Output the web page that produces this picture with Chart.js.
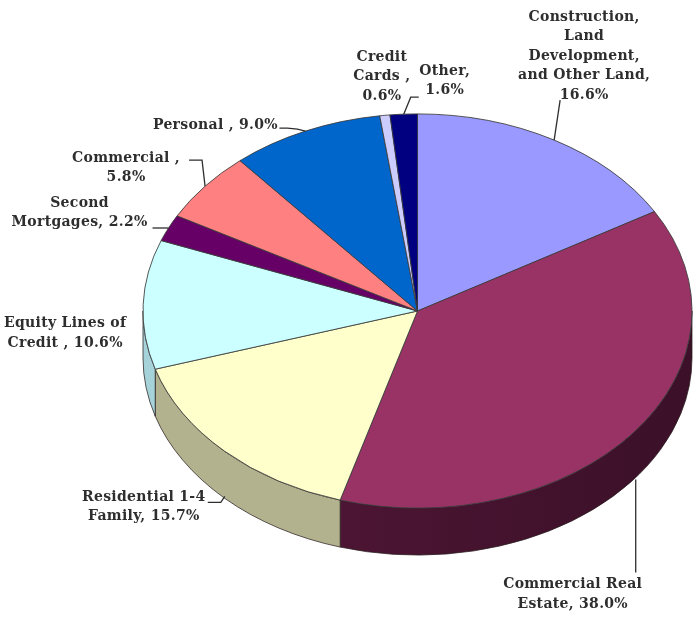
<!DOCTYPE html>
<html>
<head>
<meta charset="utf-8">
<title>Loan Portfolio Composition</title>
<script src="https://cdn.jsdelivr.net/npm/chart.js@4.4.1/dist/chart.umd.min.js"></script>
<style>
  html, body { margin: 0; padding: 0; background: #ffffff; }
  #wrap { width: 693px; height: 618px; position: relative; }
</style>
</head>
<body>
<div id="wrap"><canvas id="c" width="693" height="618"></canvas></div>
<script>
// Loan categories and their share of the portfolio (percent)
const categories = [
  "Construction, Land Development, and Other Land",
  "Commercial Real Estate",
  "Residential 1-4 Family",
  "Equity Lines of Credit",
  "Second Mortgages",
  "Commercial",
  "Personal",
  "Credit Cards",
  "Other"
];
const shares = [16.6, 38.0, 15.7, 10.6, 2.2, 5.8, 9.0, 0.6, 1.6];

// Label text, {v} is replaced by the slice value
const labelTemplates = [
  "Construction,\nLand\nDevelopment,\nand Other Land,\n{v}",
  "Commercial Real\nEstate, {v}",
  "Residential 1-4\nFamily, {v}",
  "Equity Lines of\nCredit , {v}",
  "Second\nMortgages, {v}",
  "Commercial ,\n{v}",
  "Personal , {v}",
  "Credit\nCards ,\n{v}",
  "Other,\n{v}"
];

// Face and side-wall colours
const topColors  = ["#9999FF", "#993366", "#FFFFCC", "#CCFFFF", "#660066", "#FF8080", "#0066CC", "#CCCCFF", "#000080"];
const sideColors = ["#6B6BB3", "#4C1533", "#B3B28E", "#A6D3D9", "#470047", "#B35A5A", "#00478F", "#8F8FB3", "#00005A"];

// Pie geometry: vertical squash of the disc and thickness of the wall
const TILT = 0.718;
const DEPTH = 47;

// Label placement relative to the slice anchor (top rim or bottom of wall)
const labelLayout = [
  { edge: "top",    dx: 30,  dy: -123, align: "center", leader: [[0, 0], [6, -40]] },
  { edge: "bottom", dx: -61, dy: 105,  align: "center", leader: [[2, 0], [2, 93]] },
  { edge: "bottom", dx: -81, dy: -1,   align: "center", leader: [[0, -2], [-4, 4], [-17, 4]] },
  { edge: "top",    dx: -78, dy: 19,   align: "center", leader: null },
  { edge: "top",    dx: -89, dy: -25,  align: "center", leader: [[0, 0], [-16, 0]] },
  { edge: "top",    dx: -79, dy: -28,  align: "center", leader: [[0, 0], [-3, -26], [-16, -26]] },
  { edge: "top",    dx: -90, dy: -6,   align: "center", leader: [[0, 0], [-8, -2], [-18, -3], [-26, -3]] },
  { edge: "top",    dx: -3,  dy: -58,  align: "center", leader: null },
  { edge: "top",    dx: 41,  dy: -43,  align: "center", leader: [[0, 0], [7, -17], [15, -17]] }
];

const FONT = "bold 14px 'DejaVu Serif'";
const LETTER_SPACING = "0.3px";
const LINE_H = 19.5;

function sliceGeom(arc) {
  return arc.getProps(["x", "y", "startAngle", "endAngle", "outerRadius"], true);
}

function shade(hex, f) {
  const n = parseInt(hex.slice(1), 16);
  const r = Math.round(((n >> 16) & 255) * f);
  const gg = Math.round(((n >> 8) & 255) * f);
  const b = Math.round((n & 255) * f);
  return "rgb(" + r + "," + gg + "," + b + ")";
}

const tiltPlugin = {
  id: "tilt3d",
  beforeDatasetsDraw(chart) {
    const ctx = chart.ctx;
    const arcs = chart.getDatasetMeta(0).data;
    // side walls for the part of the rim facing the viewer
    arcs.forEach((arc, i) => {
      const g = sliceGeom(arc);
      const a1 = Math.max(g.startAngle, 0);
      const a2 = Math.min(g.endAngle, Math.PI);
      if (a2 <= a1) return;
      const R = g.outerRadius, r = R * TILT;
      const grad = ctx.createLinearGradient(g.x - R, 0, g.x + R, 0);
      grad.addColorStop(0, sideColors[i]);
      grad.addColorStop(0.35, sideColors[i]);
      grad.addColorStop(1, shade(sideColors[i], 0.78));
      ctx.save();
      ctx.beginPath();
      ctx.ellipse(g.x, g.y, R, r, 0, a1, a2, false);
      ctx.lineTo(g.x + R * Math.cos(a2), g.y + r * Math.sin(a2) + DEPTH);
      ctx.ellipse(g.x, g.y + DEPTH, R, r, 0, a2, a1, true);
      ctx.closePath();
      ctx.fillStyle = grad;
      ctx.fill();
      ctx.lineWidth = 1;
      ctx.strokeStyle = "rgba(40,30,30,0.75)";
      ctx.stroke();
      ctx.restore();
    });
    // squash the disc for the top faces
    const g0 = sliceGeom(arcs[0]);
    ctx.save();
    ctx.translate(g0.x, g0.y);
    ctx.scale(1, TILT);
    ctx.translate(-g0.x, -g0.y);
  },
  afterDatasetsDraw(chart) {
    const ctx = chart.ctx;
    ctx.restore();
    const arcs = chart.getDatasetMeta(0).data;
    ctx.save();
    ctx.font = FONT;
    if ("letterSpacing" in ctx) ctx.letterSpacing = LETTER_SPACING;
    ctx.fillStyle = "#2e2e2e";
    ctx.strokeStyle = "#2e2e2e";
    ctx.lineWidth = 1.3;
    ctx.textBaseline = "middle";
    arcs.forEach((arc, i) => {
      const g = sliceGeom(arc);
      const L = labelLayout[i];
      const mid = (g.startAngle + g.endAngle) / 2;
      const R = g.outerRadius, r = R * TILT;
      const ax = g.x + R * Math.cos(mid);
      const ay = g.y + r * Math.sin(mid) + (L.edge === "bottom" ? DEPTH : 0);
      if (L.leader) {
        ctx.beginPath();
        L.leader.forEach((pt, k) => {
          if (k === 0) ctx.moveTo(ax + pt[0], ay + pt[1]);
          else ctx.lineTo(ax + pt[0], ay + pt[1]);
        });
        ctx.stroke();
      }
      const text = labelTemplates[i].replace("{v}", shares[i].toFixed(1) + "%");
      ctx.textAlign = L.align;
      text.split("\n").forEach((line, k) => {
        ctx.fillText(line, ax + L.dx, ay + L.dy + k * LINE_H);
      });
    });
    ctx.restore();
  }
};

new Chart(document.getElementById("c"), {
  type: "pie",
  data: {
    labels: categories,
    datasets: [{
      data: shares,
      backgroundColor: topColors,
      borderColor: "#3a3a3a",
      borderWidth: 1
    }]
  },
  options: {
    responsive: false,
    animation: false,
    rotation: 0,
    layout: { padding: { left: 142, right: 0, top: 36, bottom: 32 } },
    plugins: {
      legend: { display: false },
      tooltip: { enabled: false }
    }
  },
  plugins: [tiltPlugin]
});
</script>
</body>
</html>
